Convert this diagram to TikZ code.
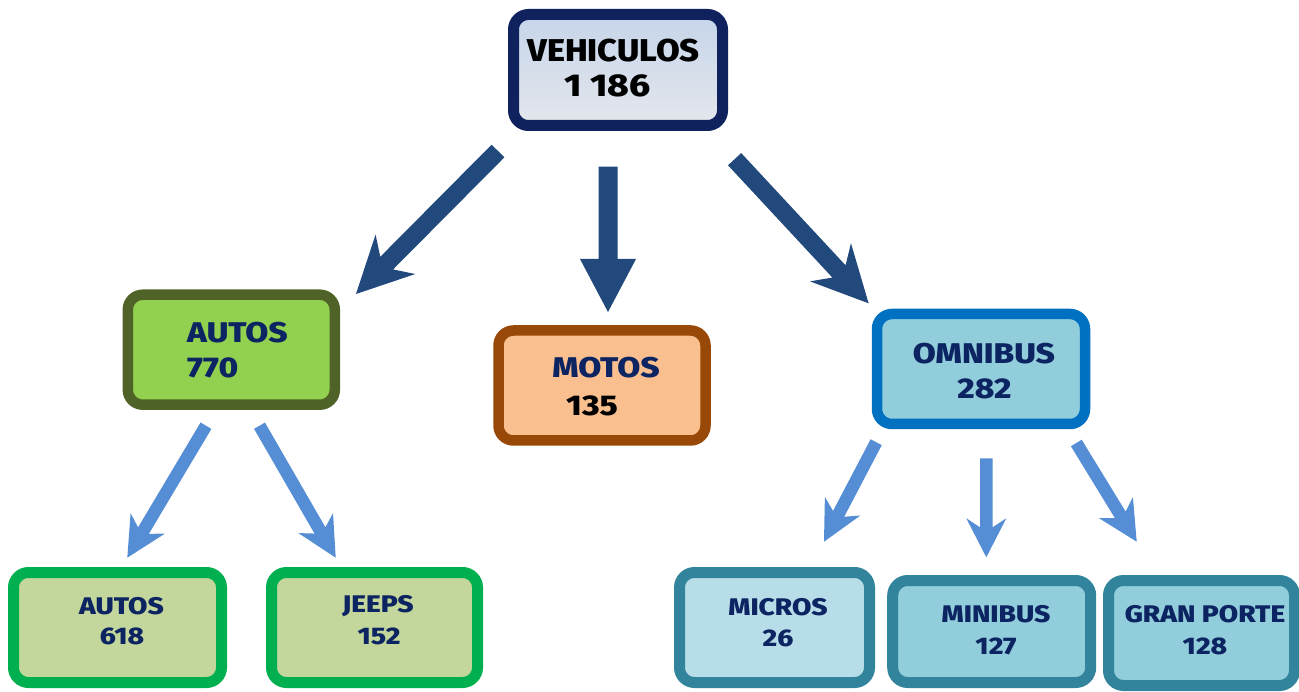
\documentclass[tikz,border=0pt]{standalone}
\usepackage{fontspec}
\setmainfont{Liberation Sans}
\IfFontExistsTF{Fira Sans ExtraBold}{\newfontfamily\heavy{Fira Sans ExtraBold}}{%
 \IfFontExistsTF{Fira Sans Black}{\newfontfamily\heavy{Fira Sans Black}}{%
  \IfFontExistsTF{Lato Black}{\newfontfamily\heavy{Lato Black}}{%
   \IfFontExistsTF{Lato Heavy}{\newfontfamily\heavy{Lato Heavy}}{%
    \newfontfamily\heavy{Liberation Sans Bold}}}}}
\usepackage{graphicx}
\usetikzlibrary{calc}
\newcommand\wa[1]{\scalebox{1.09}[1]{#1}}
\newcommand\wb[1]{\scalebox{1.17}[1]{#1}}
\definecolor{navytxt}{HTML}{0C2461}
\definecolor{vehborder}{HTML}{10225E}
\definecolor{vehtop}{HTML}{C5D5EA}
\definecolor{vehbot}{HTML}{E5E7EC}
\definecolor{bigarrow}{HTML}{21497C}
\definecolor{smallarrow}{HTML}{558ED5}
\definecolor{autborder}{HTML}{4F6228}
\definecolor{autfill}{HTML}{92D050}
\definecolor{motborder}{HTML}{984807}
\definecolor{motfill}{HTML}{F9BF8F}
\definecolor{omnborder}{HTML}{0070C0}
\definecolor{omnfill}{HTML}{92CDDC}
\definecolor{grnborder}{HTML}{00B050}
\definecolor{grnfill}{HTML}{C3D69B}
\definecolor{tealborder}{HTML}{31849B}
\definecolor{micfill}{HTML}{B7DEE8}
% block arrow: start, tip, half shaft, head length, notch distance, half head width, style
\newcommand\blockarrow[7]{%
  \path ($(#2)!#4!(#1)$) coordinate (#2-b) ($(#2)!#5!(#1)$) coordinate (#2-n);
  \fill[#7] ($(#1)!#3!90:(#2)$) -- ($(#2-n)!#3!90:(#2)$) -- ($(#2-b)!#6!90:(#2)$) -- (#2)
    -- ($(#2-b)!#6!-90:(#2)$) -- ($(#2-n)!#3!-90:(#2)$) -- ($(#1)!#3!-90:(#2)$) -- cycle;}
\begin{document}
\begin{tikzpicture}[x=1pt,y=-1pt,
  box/.style={rectangle, rounded corners=15pt, inner sep=0pt, line width=10.5pt},
  bigtxt/.style={inner sep=0pt, font=\fontsize{31.5}{37}\selectfont\heavy},
  midtxt/.style={inner sep=0pt, font=\fontsize{28.5}{33}\selectfont\heavy, text=navytxt},
  lowtxt/.style={inner sep=0pt, font=\fontsize{24}{29}\selectfont\heavy, text=navytxt},
  bigarr/.style={fill=bigarrow},
  smallarr/.style={fill=smallarrow}]
\useasboundingbox (0,0) rectangle (1299,692);

% boxes
\node[box, draw=vehborder, top color=vehtop, bottom color=vehbot, line width=11pt,
      minimum width=209pt, minimum height=111pt] (veh) at (618,70) {};
\node[box, draw=autborder, fill=autfill, minimum width=207pt, minimum height=110pt] (aut) at (231.3,349.7) {};
\node[box, draw=motborder, fill=motfill, minimum width=207pt, minimum height=110pt] (mot) at (602,385.5) {};
\node[box, draw=omnborder, fill=omnfill, minimum width=208pt, minimum height=110pt] (omn) at (981,369) {};
\node[box, draw=grnborder, fill=grnfill, line width=11pt, minimum width=208pt, minimum height=110pt] (aut2) at (117.5,627.5) {};
\node[box, draw=grnborder, fill=grnfill, line width=11pt, minimum width=206pt, minimum height=110pt] (jee) at (374.5,627.5) {};
\node[box, draw=tealborder, fill=micfill, line width=11pt, minimum width=190pt, minimum height=110pt] (mic) at (774.5,627.5) {};
\node[box, draw=tealborder, fill=omnfill, line width=11pt, minimum width=198pt, minimum height=102pt] (min) at (991.7,631.5) {};
\node[box, draw=tealborder, fill=omnfill, line width=11pt, minimum width=186pt, minimum height=105pt] (gra) at (1201.5,633) {};

% texts
\node[bigtxt] (veh-a) at (613.5,50.5) {\wa{VEHICULOS}};
\node[bigtxt] (veh-b) at (607.5,85.5) {\wb{1 186}};
\node[midtxt, anchor=west] (aut-a) at (187,333) {\wb{AUTOS}};
\node[midtxt, anchor=west] (aut-b) at (187,367.5) {\wb{770}};
\node[midtxt] (mot-a) at (606,368) {\wb{MOTOS}};
\node[midtxt, text=black] (mot-b) at (592,405.5) {\wb{135}};
\node[midtxt] (omn-a) at (984,353.5) {\wb{OMNIBUS}};
\node[midtxt] (omn-b) at (984.5,388.5) {\wb{282}};
\node[lowtxt] (aut2-a) at (121.5,606.5) {\wb{AUTOS}};
\node[lowtxt] (aut2-b) at (122,636) {\wb{618}};
\node[lowtxt] (jee-a) at (378,606.5) {\wb{JEEPS}};
\node[lowtxt] (jee-b) at (379,636) {\wb{152}};
\node[lowtxt] (mic-a) at (778,607) {\wb{MICROS}};
\node[lowtxt] (mic-b) at (778,638.5) {\wb{26}};
\node[lowtxt] (min-a) at (996,614) {\wb{MINIBUS}};
\node[lowtxt] (min-b) at (996,646) {\wb{127}};
\node[lowtxt] (gra-a) at (1205,614) {\wb{GRAN PORTE}};
\node[lowtxt] (gra-b) at (1205,646) {\wb{128}};

% arrow end points
\coordinate (va-s) at (498,151);    \coordinate (va-t) at (356,294);
\coordinate (vm-s) at (608,166.7);  \coordinate (vm-t) at (608,312);
\coordinate (vo-s) at (734.6,159.2);\coordinate (vo-t) at (868.6,303.3);
\coordinate (aa-s) at (206,425.7);  \coordinate (aa-t) at (127.3,557.7);
\coordinate (aj-s) at (259.5,425.7);\coordinate (aj-t) at (335.7,557.7);
\coordinate (om-s) at (876.2,442.2);\coordinate (om-t) at (824,541.7);
\coordinate (on-s) at (986.3,458.3);\coordinate (on-t) at (986.3,557.3);
\coordinate (og-s) at (1076.3,443); \coordinate (og-t) at (1136.7,541.7);

% arrows
\blockarrow{va-s}{va-t}{9pt}{56pt}{43.5pt}{28pt}{bigarr}
\blockarrow{vm-s}{vm-t}{9.5pt}{53pt}{53pt}{28pt}{bigarr}
\blockarrow{vo-s}{vo-t}{9pt}{56pt}{43.5pt}{28pt}{bigarr}
\blockarrow{aa-s}{aa-t}{6.3pt}{40pt}{31.5pt}{20pt}{smallarr}
\blockarrow{aj-s}{aj-t}{6.3pt}{40pt}{31.5pt}{20pt}{smallarr}
\blockarrow{om-s}{om-t}{6.3pt}{40pt}{31.5pt}{20pt}{smallarr}
\blockarrow{on-s}{on-t}{6.3pt}{39pt}{30pt}{20pt}{smallarr}
\blockarrow{og-s}{og-t}{6.3pt}{40pt}{31.5pt}{20pt}{smallarr}
\end{tikzpicture}
\end{document}
